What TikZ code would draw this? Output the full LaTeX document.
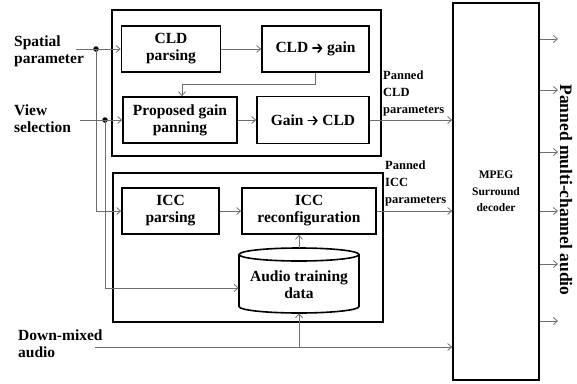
\documentclass[tikz,border=0pt]{standalone}
\usepackage{fontspec}
\setmainfont{Liberation Serif}
\usetikzlibrary{arrows.meta}
\definecolor{wiregray}{HTML}{6E6E6E}
% heavy arrow with an open chevron head, used inside block titles
\newcommand{\heavyarrow}{\tikz[baseline=0pt, x=1pt, y=1pt]
  \draw[line width=1.6pt, line cap=round,
    -{Straight Barb[length=3.5pt, width=8.5pt, line width=1.6pt]}]
    (0,4.4) -- (9.5,4.4);}
\begin{document}
\begin{tikzpicture}[x=1pt,y=-1pt,
  blockbox/.style={draw, line width=1.6pt, align=center, inner sep=0pt,
    font=\fontsize{15.5}{17}\selectfont\bfseries},
  groupbox/.style={draw, line width=1.6pt, inner sep=0pt},
  wire/.style={draw=wiregray, line width=0.8pt},
  arr/.style={wire, -{Straight Barb[length=4pt,width=7pt]}},
  junction/.style={circle, fill=black, inner sep=0pt, minimum size=5.5pt},
  inlabel/.style={anchor=west, align=left, inner sep=0pt,
    font=\fontsize{15.5}{17}\selectfont\bfseries},
  sidelabel/.style={anchor=west, align=left, inner sep=0pt,
    font=\fontsize{12.5}{17}\selectfont\bfseries}]
\useasboundingbox (0,0) rectangle (577,383);

% grouping frames
\node[groupbox, minimum width=269, minimum height=146] (gtop) at (246.5,83) {};
\node[groupbox, minimum width=270, minimum height=149] (gbot) at (248,247.5) {};

% processing blocks
\node[blockbox, minimum width=99,  minimum height=46] (cldp) at (171,49)   {CLD\\parsing};
\node[blockbox, minimum width=107, minimum height=46] (cldg) at (315.5,49) {CLD \heavyarrow{} gain};
\node[blockbox, minimum width=114, minimum height=46] (pgp)  at (180,120)  {Proposed gain\\panning};
\node[blockbox, minimum width=112, minimum height=47] (gcld) at (313,120)  {Gain \heavyarrow{} CLD};
\node[blockbox, minimum width=97,  minimum height=46] (iccp) at (170.5,211) {ICC\\parsing};
\node[blockbox, minimum width=134, minimum height=46] (iccr) at (309,211)  {ICC\\reconfiguration};

% training data store (cylinder)
\node[minimum width=120, minimum height=65, inner sep=0pt] (atd) at (299,280.5) {};
\draw[line width=1.6pt] (239,254.5) -- (239,306.5)
  arc[start angle=180, end angle=360, x radius=60pt, y radius=6.5pt] -- (359,254.5);
\draw[line width=1.6pt] (299,254.5) ellipse[x radius=60pt, y radius=6.5pt];
\node[align=center, inner sep=0pt, font=\fontsize{15.5}{17}\selectfont\bfseries]
  (atdtext) at (299,285) {Audio training\\data};

% decoder
\node[draw, line width=1.6pt, minimum width=86, minimum height=377, align=center,
  font=\fontsize{11.5}{16.5}\selectfont\bfseries] (mpeg) at (496,191.5)
  {MPEG\\Surround\\decoder};

% labels
\node[inlabel] (splbl) at (14,51)  {Spatial\\parameter};
\node[inlabel] (vslbl) at (14,119) {View\\selection};
\node[inlabel] (dmlbl) at (18,344) {Down-mixed\\audio};
\node[sidelabel] (cldlbl) at (383,93)  {Panned\\CLD\\parameters};
\node[sidelabel] (icclbl) at (385,183) {Panned\\ICC\\parameters};
\node[rotate=-90, inner sep=0pt, font=\fontsize{17.5}{20}\selectfont\bfseries]
  (outlbl) at (566,190) {Panned multi-channel audio};

% inputs and junctions
\coordinate (spin) at (76,49);
\coordinate (vin)  at (80,120);
\coordinate (dmin) at (95,347);
\coordinate (dmtap) at (299,347);
\coordinate (fb) at (182,84);
\node[junction] (spdot) at (96,49)  {};
\node[junction] (vdot)  at (105,120) {};

% connectors
\draw[arr] (spin) -- (cldp.west);
\draw[arr] (spdot.center) |- (iccp.west);
\draw[arr] (vin) -- (pgp.west);
\draw[arr] (vdot.center) |- ([yshift=-7.5pt]atd.west);
\draw[arr] (cldp.east) -- (cldg.west);
\draw[arr] (cldg.south) |- (fb) -- (fb |- pgp.north);
\draw[arr] (pgp.east) -- (gcld.west);
\draw[arr] (gcld.east) -- (gcld.east -| mpeg.west);
\draw[arr] (iccp.east) -- (iccr.west);
\draw[arr] (iccr.east) -- (iccr.east -| mpeg.west);
\draw[arr] (atd.north) -- (atd.north |- iccr.south);
\draw[arr] (dmin) -- (dmin -| mpeg.west);
\draw[arr] (dmtap) -- (dmtap |- atd.south);

% decoder outputs
\foreach \y [count=\i] in {39,90,152,211,264,321} {
  \coordinate (out\i) at (558,\y);
  \draw[arr] (out\i -| mpeg.east) -- (out\i);
}
\end{tikzpicture}
\end{document}
